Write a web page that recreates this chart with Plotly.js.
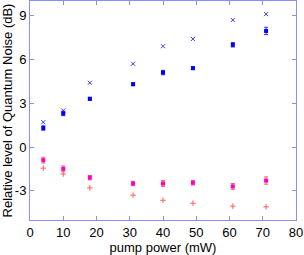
<!DOCTYPE html>
<html><head><meta charset="utf-8">
<script src="https://cdn.plot.ly/plotly-3.0.1.min.js"></script>
<style>html,body{margin:0;padding:0;background:#fff}#c{width:304px;height:255px}</style>
</head><body><div id="c"></div>
<script>
const power = [4, 10, 18, 31, 40, 49, 61, 71];
const blueSquares = [1.3, 2.3, 3.3, 4.3, 5.1, 5.4, 7.0, 7.95];
const blueErr = [0.15, 0.15, 0.1, 0.1, 0.15, 0.1, 0.15, 0.25];
const blueCrosses = [1.7, 2.5, 4.4, 5.7, 6.9, 7.4, 8.7, 9.1];
const magentaSquares = [-0.9, -1.5, -2.1, -2.5, -2.5, -2.45, -2.7, -2.3];
const magentaErr = [0.2, 0.2, 0.15, 0.15, 0.2, 0.15, 0.2, 0.25];
const redPlus = [-1.45, -1.85, -2.8, -3.3, -3.65, -3.85, -4.05, -4.1];
const xTicks = [0, 10, 20, 30, 40, 50, 60, 70, 80];
const yTicks = [-3, 0, 3, 6, 9];

const axisColor = '#8c8cff';
const traces = [
  {x: power, y: blueCrosses, mode: 'markers', type: 'scatter',
   marker: {symbol: 'x-thin', size: 4, line: {color: '#3a3aff', width: 1}, color: '#3a3aff'}},
  {x: power, y: blueSquares, mode: 'markers', type: 'scatter',
   error_y: {type: 'data', array: blueErr, color: '#3030ff', thickness: 1, width: 2},
   marker: {symbol: 'square', size: 4, color: '#0000ff'}},
  {x: power, y: redPlus, mode: 'markers', type: 'scatter',
   marker: {symbol: 'cross-thin', size: 4, line: {color: '#ff6060', width: 1}, color: '#ff6060'}},
  {x: power, y: magentaSquares, mode: 'markers', type: 'scatter',
   error_y: {type: 'data', array: magentaErr, color: '#f06060', thickness: 1, width: 2},
   marker: {symbol: 'square', size: 4, color: '#ff00cc'}}
];
const layout = {
  width: 304, height: 255,
  margin: {l: 30, r: 8, t: 1, b: 35},
  showlegend: false,
  paper_bgcolor: '#fff', plot_bgcolor: '#fff',
  font: {family: 'Liberation Sans, Arial, sans-serif', size: 12, color: '#000'},
  xaxis: {range: [0, 80], tickvals: xTicks, ticktext: xTicks.map(String),
    showgrid: false, zeroline: false, showline: true, linecolor: axisColor, linewidth: 1,
    mirror: 'allticks', ticks: 'inside', ticklen: 4, tickcolor: axisColor,
    tickfont: {size: 13}, title: {text: 'pump power (mW)', font: {size: 13}, standoff: 9}},
  yaxis: {range: [-5, 10], tickvals: yTicks, ticktext: yTicks.map(String),
    showgrid: false, zeroline: false, showline: true, linecolor: axisColor, linewidth: 1,
    mirror: 'allticks', ticks: 'inside', ticklen: 4, tickcolor: axisColor,
    tickfont: {size: 13}, title: {text: 'Relative level of Quantum Noise (dB)', font: {size: 13}, standoff: 1}}
};
Plotly.newPlot('c', traces, layout, {displayModeBar: false, staticPlot: true});
</script></body></html>
